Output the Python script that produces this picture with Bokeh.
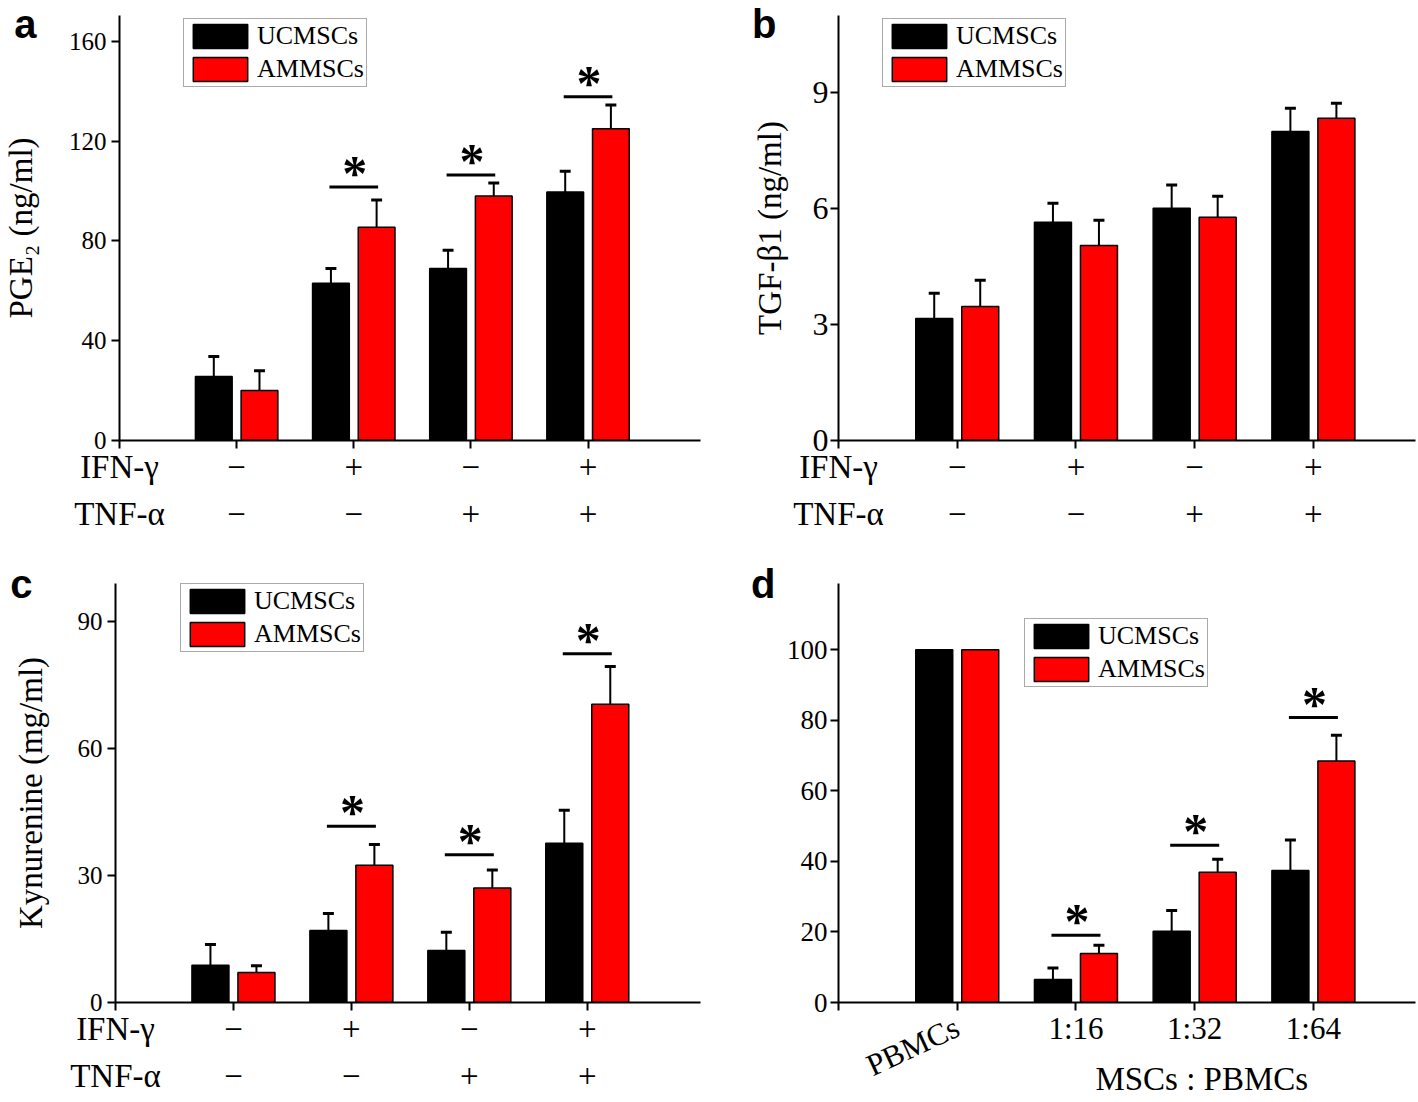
import math
from bokeh.plotting import figure
from bokeh.models import Range1d, FixedTicker, LinearAxis, Legend, LegendItem
from bokeh.layouts import column, row
from bokeh.embed import file_html
from bokeh.resources import INLINE
from bokeh.core.properties import value

SERIF = "Liberation Serif"
SANS = "Liberation Sans"
BLACK = "#000000"
RED = "#ff0000"

# ---------------- data ----------------
groups = [1, 2, 3, 4]
series_names = ["UCMSCs", "AMMSCs"]
row_titles = ["IFN-γ", "TNF-α"]
ifn_row = ["−", "+", "−", "+"]
tnf_row = ["−", "−", "+", "+"]
ratio_labels = ["PBMCs", "1:16", "1:32", "1:64"]
ratio_title = "MSCs : PBMCs"

pge2_ticks = [0, 40, 80, 120, 160]
pge2_uc = [25.7, 63.0, 69.0, 99.6]
pge2_uc_sd = [8.0, 6.0, 7.3, 8.4]
pge2_am = [20.0, 85.5, 98.0, 125.0]
pge2_am_sd = [8.0, 10.9, 5.2, 9.5]
pge2_sig = [None, 101.6, 106.4, 137.8]

tgf_ticks = [0, 3, 6, 9]
tgf_uc = [3.16, 5.65, 6.01, 8.00]
tgf_uc_sd = [0.65, 0.49, 0.60, 0.60]
tgf_am = [3.47, 5.05, 5.78, 8.34]
tgf_am_sd = [0.68, 0.65, 0.54, 0.39]
tgf_sig = [None, None, None, None]

kyn_ticks = [0, 30, 60, 90]
kyn_uc = [8.8, 17.0, 12.3, 37.6]
kyn_uc_sd = [4.9, 4.0, 4.3, 7.8]
kyn_am = [7.1, 32.4, 27.0, 70.4]
kyn_am_sd = [1.6, 4.9, 4.3, 8.9]
kyn_sig = [None, 41.6, 34.9, 82.3]

ratio_ticks = [0, 20, 40, 60, 80, 100]
ratio_uc = [100, 6.5, 20.2, 37.4]
ratio_uc_sd = [0, 3.3, 5.9, 8.7]
ratio_am = [100, 13.9, 36.9, 68.5]
ratio_am_sd = [0, 2.3, 3.7, 7.3]
ratio_sig = [None, 19.1, 44.6, 80.8]


def plain_axis(ticks, labels, standoff, font, size, style="normal"):
    ax = LinearAxis(ticker=FixedTicker(ticks=ticks),
                    major_label_overrides=dict(zip(ticks, labels)))
    ax.axis_line_color = None
    ax.major_tick_line_color = None
    ax.minor_tick_line_color = None
    ax.major_tick_out = 0
    ax.major_tick_in = 0
    ax.minor_tick_out = 0
    ax.minor_tick_in = 0
    ax.major_label_standoff = standoff
    ax.major_label_text_font = font
    ax.major_label_text_font_size = size
    ax.major_label_text_font_style = style
    ax.major_label_text_color = BLACK
    return ax


def make_panel(letter, letter_y, letter_standoff, ymax, xmax, yticks, tick_size, tick_standoff,
               uc, uc_sd, am, am_sd, sig,
               W, H, fw, fh, bl, bt, br, bb, legend_xy, ylabel=None, ylabel_standoff=0):
    p = figure(width=W, height=H,
               min_border_left=bl, min_border_top=bt, min_border_right=br, min_border_bottom=bb,
               x_range=Range1d(0, xmax), y_range=Range1d(0, ymax),
               output_backend="svg", toolbar_location=None,
               outline_line_color=None, background_fill_color="white")
    p.xgrid.visible = False
    p.ygrid.visible = False
    ux = xmax / fw   # data units per pixel (x)
    uy = ymax / fh   # data units per pixel (y)

    for ax in (p.xaxis[0], p.yaxis[0]):
        ax.axis_line_width = 2
        ax.axis_line_color = BLACK
        ax.major_tick_line_width = 2
        ax.major_tick_line_color = BLACK
        ax.major_tick_out = 8
        ax.major_tick_in = 0
        ax.minor_tick_out = 0
        ax.minor_tick_in = 0
        ax.major_label_text_font = SERIF
        ax.major_label_text_color = BLACK
    p.yaxis.ticker = FixedTicker(ticks=yticks)
    p.yaxis.major_label_text_font_size = tick_size
    p.yaxis.major_label_standoff = tick_standoff
    p.xaxis.ticker = FixedTicker(ticks=[0] + groups)
    p.xaxis.major_label_text_font_size = "33px"
    p.xaxis.major_label_standoff = 0

    # outer left axis: panel letter + y title
    lax = plain_axis([letter_y], [letter], letter_standoff, SANS, "40px", "bold")
    if ylabel:
        lax.axis_label = ylabel
        lax.axis_label_standoff = ylabel_standoff
        lax.axis_label_text_font = SERIF
        lax.axis_label_text_font_size = "33px"
        lax.axis_label_text_font_style = "normal"
        lax.axis_label_text_color = BLACK
    p.add_layout(lax, "left")

    off = 23 * ux
    bw = 37 * ux
    cap = 5.5 * ux
    xs_uc = [g - off for g in groups]
    xs_am = [g + off for g in groups]

    # error bars
    for xs, vals, sds in ((xs_uc, uc, uc_sd), (xs_am, am, am_sd)):
        ex = [x for x, s in zip(xs, sds) if s > 0]
        ev = [v for v, s in zip(vals, sds) if s > 0]
        et = [v + s for v, s in zip(vals, sds) if s > 0]
        p.segment(x0=ex, y0=ev, x1=ex, y1=et, line_color=BLACK, line_width=2)
        p.segment(x0=[x - cap for x in ex], y0=et, x1=[x + cap for x in ex], y1=et,
                  line_color=BLACK, line_width=3)

    r1 = p.vbar(x=xs_uc, top=uc, width=bw, fill_color=BLACK, line_color=BLACK, line_width=1.5)
    r2 = p.vbar(x=xs_am, top=am, width=bw, fill_color=RED, line_color=BLACK, line_width=1.5)

    # significance marks
    half = 24.5 * ux
    sx = [g for g, s in zip(groups, sig) if s is not None]
    sy = [s for s in sig if s is not None]
    if sx:
        p.segment(x0=[x - half for x in sx], y0=sy, x1=[x + half for x in sx], y1=sy,
                  line_color=BLACK, line_width=3)
        p.text(x=[x + 1 * ux for x in sx], y=[s + 14 * uy for s in sy], text=["*"] * len(sx),
               text_font=value(SERIF), text_font_size="50px", text_font_style="bold",
               text_align="center", text_baseline="alphabetic", text_color=BLACK)

    legend = Legend(items=[LegendItem(label=series_names[0], renderers=[r1]),
                           LegendItem(label=series_names[1], renderers=[r2])],
                    location=legend_xy, orientation="vertical")
    legend.label_text_font = SERIF
    legend.label_text_font_size = "26px"
    legend.label_text_color = BLACK
    legend.glyph_width = 68
    legend.glyph_height = 30
    legend.label_height = 30
    legend.label_standoff = 3
    legend.padding = 2
    legend.spacing = 3
    legend.margin = 0
    legend.border_line_color = "#555555"
    legend.border_line_width = 1.5
    legend.background_fill_color = "white"
    legend.background_fill_alpha = 1
    p.add_layout(legend)
    return p


def add_treatment_rows(p):
    ticks = [0] + groups
    p.xaxis[0].major_label_overrides = dict(zip(ticks, [row_titles[0]] + ifn_row))
    p.add_layout(plain_axis(ticks, [row_titles[1]] + tnf_row, 8, SERIF, "33px"), "below")


# ---------------- panels ----------------
# top row: height 546 ; bottom row: height 555
pa = make_panel("a", 167, 29, 170.4, 4.96, pge2_ticks, "25px", 5,
                pge2_uc, pge2_uc_sd, pge2_am, pge2_am_sd, pge2_sig,
                730, 546, 585, 425, 115, 15, 30, 106, (64, 353),
                ylabel="PGE₂ (ng/ml)", ylabel_standoff=-28)
add_treatment_rows(pa)

pb = make_panel("b", 10.85, 33, 11.0, 4.86, tgf_ticks, "32px", 2,
                tgf_uc, tgf_uc_sd, tgf_am, tgf_am_sd, tgf_sig,
                686, 546, 577, 425, 108, 15, 1, 106, (44, 353),
                ylabel="TGF-β1 (ng/ml)", ylabel_standoff=-39)
add_treatment_rows(pb)

pc = make_panel("c", 98.8, 42, 98.9, 4.96, kyn_ticks, "25px", 5,
                kyn_uc, kyn_uc_sd, kyn_am, kyn_am_sd, kyn_sig,
                730, 555, 585, 420, 115, 37, 30, 98, (65, 350),
                ylabel="Kynurenine (mg/ml)", ylabel_standoff=-42)
add_treatment_rows(pc)

pd_ = make_panel("d", 118.7, 8, 118.8, 4.86, ratio_ticks, "27px", 3,
                 ratio_uc, ratio_uc_sd, ratio_am, ratio_am_sd, ratio_sig,
                 686, 555, 577, 420, 108, 37, 1, 98, (186, 315))
ticks_d = [0] + groups
pd_.xaxis[0].major_label_overrides = dict(zip(ticks_d, ["", ""] + ratio_labels[1:]))
pd_.xaxis[0].major_label_text_font_size = "31px"
rot_axis = plain_axis([groups[0]], [ratio_labels[0]], -23, SERIF, "31px")
rot_axis.major_label_orientation = 25 * math.pi / 180
pd_.add_layout(rot_axis, "below")
title_x = 3.06
pd_.add_layout(plain_axis([title_x], [ratio_title], -41, SERIF, "33px"), "below")

layout = column(row(pa, pb), row(pc, pd_))
open("out.html", "w").write(file_html(layout, INLINE))
